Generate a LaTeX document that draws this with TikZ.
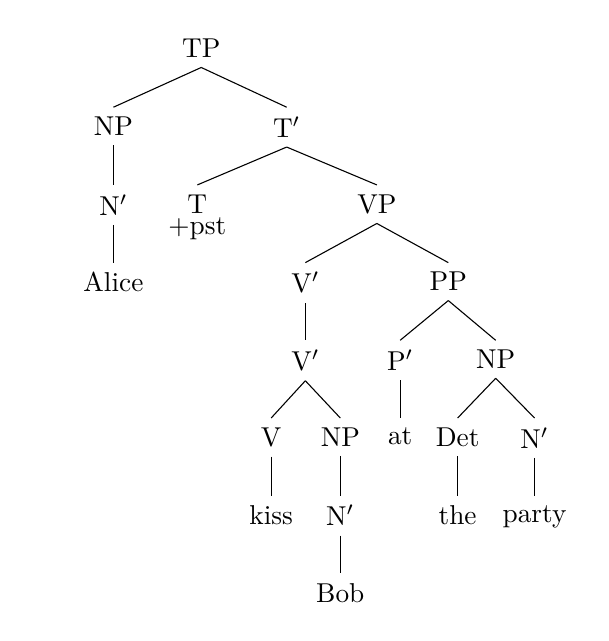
\documentclass[tikz,border=0pt]{standalone}
\begin{document}
\begin{tikzpicture}

\tikzstyle{every node} = [anchor=north]

\useasboundingbox (0,0) rectangle (7.838,-8.25);

\node (tp) at (2.59,-0.38) {TP};

\node (np) at (1.46,-1.38) {NP};
\node (n) at (1.46,-2.38) {N$'$};
\node (al) at (1.46,-3.38) {Alice};

\node (tb) at (3.69,-1.38) {T$'$};
\node (t) at (2.54,-2.38) [align=center] {T\\[-4.3pt]+pst};
\node (vp) at (4.85,-2.38) {VP};

\node (va) at (3.93,-3.38) {V$'$};
\node (vb) at (3.93,-4.38) {V$'$};
\node (v) at (3.49,-5.38) {V};
\node (k) at (3.49,-6.38) {kiss};
\node (o) at (4.38,-5.38) {NP};
\node (on) at (4.38,-6.38) {N$'$};
\node (b) at (4.38,-7.38) {Bob};

\node (pp) at (5.77,-3.38) {PP};
\node (p) at (5.15,-4.38) {P$'$};
\node (at) at (5.15,-5.38) {at};
\node (q) at (6.38,-4.38) {NP};
\node (d) at (5.89,-5.38) {Det};
\node (th) at (5.89,-6.38) {the};
\node (qn) at (6.88,-5.38) {N$'$};
\node (py) at (6.88,-6.38) {party};


\draw[-] (tp.south) -- (np.north);
\draw[-] (tp.south) -- (tb.north);
\draw[-] (np.south) -- (n.north);
\draw[-] (n.south) -- (al.north);

\draw[-] (tb.south) -- (t.north);
\draw[-] (tb.south) -- (vp.north);
\draw[-] (vp.south) -- (va.north);
\draw[-] (vp.south) -- (pp.north);

\draw[-] (va.south) -- (vb.north);
\draw[-] (vb.south) -- (v.north);
\draw[-] (vb.south) -- (o.north);
\draw[-] (v.south) -- (k.north);
\draw[-] (o.south) -- (on.north);
\draw[-] (on.south) -- (b.north);

\draw[-] (pp.south) -- (p.north);
\draw[-] (pp.south) -- (q.north);
\draw[-] (p.south) -- (at.north);
\draw[-] (q.south) -- (d.north);
\draw[-] (q.south) -- (qn.north);
\draw[-] (d.south) -- (th.north);
\draw[-] (qn.south) -- (py.north);

\end{tikzpicture}
\end{document}
